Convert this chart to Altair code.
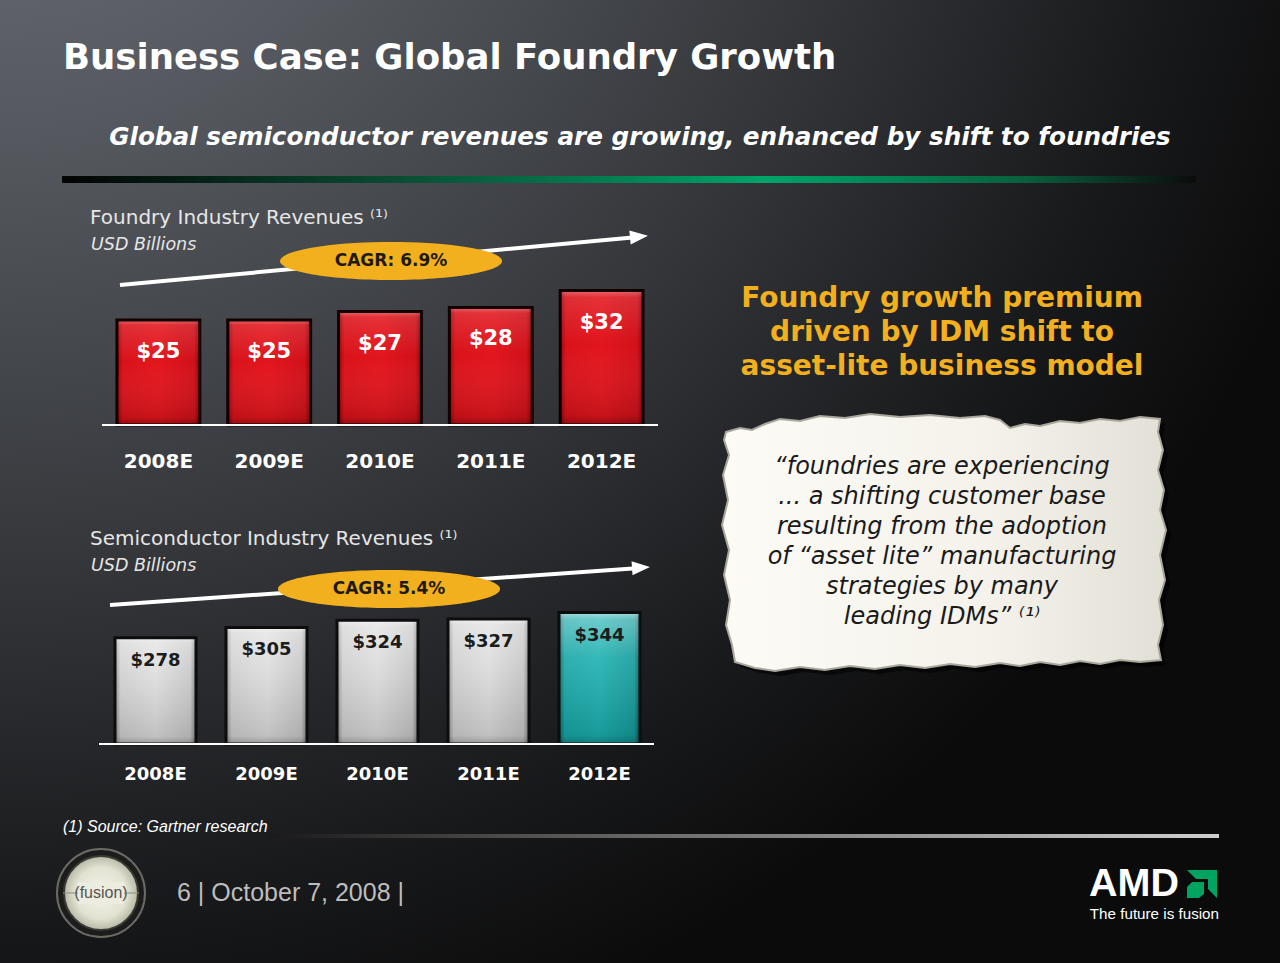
import altair as alt
import pandas as pd

# ---------------- data ----------------
years = ["2008E", "2009E", "2010E", "2011E", "2012E"]
foundry_rev = [25, 25, 27, 28, 32]
semi_rev = [278, 305, 324, 327, 344]
foundry_cagr = "CAGR: 6.9%"
semi_cagr = "CAGR: 5.4%"
highlight_year = "2012E"

title_text = "Business Case: Global Foundry Growth"
subtitle_text = "Global semiconductor revenues are growing, enhanced by shift to foundries"
top_header = "Foundry Industry Revenues \u207d\u00b9\u207e"
bottom_header = "Semiconductor Industry Revenues \u207d\u00b9\u207e"
unit_text = "USD Billions"
gold_lines = ["Foundry growth premium", "driven by IDM shift to", "asset-lite business model"]
quote_lines = [
    "\u201cfoundries are experiencing",
    "... a shifting customer base",
    "resulting from the adoption",
    "of \u201casset lite\u201d manufacturing",
    "strategies by many",
    "leading IDMs\u201d \u207d\u00b9\u207e",
]
source_text = "(1) Source: Gartner research"
footer_text = "6 | October 7, 2008 |"

FONT = "DejaVu Sans"
ARIAL = "Liberation Sans"
W, H = 1280, 963

top_df = pd.DataFrame({"year": years, "value": foundry_rev,
                       "label": ["$" + str(v) for v in foundry_rev]})
bot_df = pd.DataFrame({"year": years, "value": semi_rev,
                       "label": ["$" + str(v) for v in semi_rev],
                       "hl": [y == highlight_year for y in years]})
one = pd.DataFrame({"a": [0]})


def grad(stops, horizontal=False, kind="linear", **kw):
    g = dict(gradient=kind, stops=[alt.GradientStop(offset=o, color=c) for o, c in stops])
    if kind == "linear":
        if horizontal:
            g.update(x1=0, y1=0, x2=1, y2=0)
        else:
            g.update(x1=0, y1=0, x2=0, y2=1)
    g.update(kw)
    return alt.Gradient(**g)


def pos(x, y):
    return dict(x=alt.value(x), y=alt.value(y))


def text(s, x, y, size, color, weight="normal", style="normal", align="left",
         font=FONT, baseline="middle", **kw):
    return alt.Chart(one).mark_text(
        text=s, fontSize=size, color=color, fontWeight=weight, fontStyle=style,
        align=align, baseline=baseline, font=font, **kw
    ).encode(**pos(x, y))


def rect(x, x2, y, y2, fill, **kw):
    return alt.Chart(one).mark_rect(fill=fill, **kw).encode(
        x=alt.value(x), x2=alt.value(x2), y=alt.value(y), y2=alt.value(y2))


def shape(path, x, y, fill, angle=0, **kw):
    return alt.Chart(one).mark_point(
        shape=path, size=4, filled=True, fill=fill, opacity=1, angle=angle, **kw
    ).encode(**pos(x, y))


def arrow(xa, ya, xb, yb, angle):
    line = alt.Chart(one).mark_rule(color="white", strokeWidth=4).encode(
        x=alt.value(xa), y=alt.value(ya), x2=alt.value(xb - 8), y2=alt.value(yb + 1))
    head = shape("M-10,-7 L8,0 L-10,7 Z", xb - 6, yb + 0.5, "white", angle=angle, strokeWidth=0)
    return [line, head]


def ellipse(cx, cy, rx, ry, fill):
    p = f"M{-rx},0 A{rx},{ry} 0 1 1 {rx},0 A{rx},{ry} 0 1 1 {-rx},0 Z"
    return shape(p, cx, cy, fill, strokeWidth=0)


# ---------------- background ----------------
bg = rect(0, W, 0, H, grad([(0, "#70747b"), (0.3, "#55595f"), (0.6, "#35373b"),
                            (0.85, "#18191b"), (1, "#0b0b0b")],
                           kind="radial", x1=0.0, y1=-0.1, r1=0, x2=0.0, y2=-0.1, r2=1.1))

green_bar = rect(62, 1196, 176, 183, grad([(0, "#030303"), (0.3, "#0b4d33"), (0.62, "#00a469"),
                                            (0.85, "#0a5f3d"), (1, "#0b0b0b")], horizontal=True))
footer_line = rect(270, 1219, 834, 838, grad([(0, "#1a1a1a"), (0.4, "#6a6a6a"), (1, "#cfcfcf")],
                                              horizontal=True))

# ---------------- top chart ----------------
xs_top = alt.Scale(domain=years, range=[103, 657], paddingInner=0.252, paddingOuter=0.126)
ys_top = alt.Scale(domain=[0, 100], range=[425, 5])
enc_top = dict(x=alt.X("year:N", scale=xs_top, axis=None),
               y=alt.Y("value:Q", scale=ys_top, axis=None))

red_base = grad([(0, "#9c0408"), (0.07, "#d9121a"), (0.5, "#e3151c"), (0.93, "#d0101a"),
                 (1, "#8e0307")], horizontal=True)
shade = grad([(0, "rgba(255,255,255,0.35)"), (0.05, "rgba(255,255,255,0.12)"),
              (0.4, "rgba(255,255,255,0)"), (0.93, "rgba(0,0,0,0.12)"), (1, "rgba(0,0,0,0.35)")])

top_bars = alt.Chart(top_df).mark_bar(fill=red_base).encode(**enc_top)
top_shade = alt.Chart(top_df).mark_bar(fill=shade).encode(**enc_top)
top_frame = alt.Chart(top_df).mark_bar(fill="transparent", stroke="#120000",
                                       strokeWidth=3).encode(**enc_top)
top_labels = alt.Chart(top_df).mark_text(
    font=FONT, fontSize=21, fontWeight="bold", color="white", baseline="middle", dy=32
).encode(x=alt.X("year:N", scale=xs_top, axis=None),
         y=alt.Y("value:Q", scale=ys_top, axis=None), text="label:N")
top_cats = alt.Chart(top_df).mark_text(
    font=FONT, fontSize=20, fontWeight="bold", color="white", baseline="middle"
).encode(x=alt.X("year:N", scale=xs_top, axis=None), y=alt.value(462), text="year:N")
top_base = alt.Chart(one).mark_rule(color="white", strokeWidth=2).encode(
    x=alt.value(102), x2=alt.value(658), y=alt.value(425))

# ---------------- bottom chart ----------------
xs_bot = alt.Scale(domain=years, range=[100, 655], paddingInner=0.27, paddingOuter=0.135)
ys_bot = alt.Scale(domain=[0, 1000], range=[744, 362])
enc_bot = dict(x=alt.X("year:N", scale=xs_bot, axis=None),
               y=alt.Y("value:Q", scale=ys_bot, axis=None))

gray_base = grad([(0, "#8a8a8a"), (0.07, "#cfcfcf"), (0.5, "#dcdcdc"), (0.93, "#c6c6c6"),
                  (1, "#7e7e7e")], horizontal=True)
teal_base = grad([(0, "#0b6262"), (0.07, "#18a6a6"), (0.5, "#1cb0b0"), (0.93, "#149a9a"),
                  (1, "#095858")], horizontal=True)
gshade = grad([(0, "rgba(255,255,255,0.6)"), (0.05, "rgba(255,255,255,0.35)"),
               (0.35, "rgba(255,255,255,0.1)"), (0.93, "rgba(0,0,0,0.12)"), (1, "rgba(0,0,0,0.3)")])

bot_gray = alt.Chart(bot_df).transform_filter("!datum.hl").mark_bar(fill=gray_base).encode(**enc_bot)
bot_teal = alt.Chart(bot_df).transform_filter("datum.hl").mark_bar(fill=teal_base).encode(**enc_bot)
bot_shade = alt.Chart(bot_df).mark_bar(fill=gshade).encode(**enc_bot)
bot_frame = alt.Chart(bot_df).mark_bar(fill="transparent", stroke="#0d0d0d",
                                       strokeWidth=3).encode(**enc_bot)
bot_labels = alt.Chart(bot_df).mark_text(
    font=FONT, fontSize=18, fontWeight="bold", color="#1c1c1c", baseline="middle", dy=23
).encode(x=alt.X("year:N", scale=xs_bot, axis=None),
         y=alt.Y("value:Q", scale=ys_bot, axis=None), text="label:N")
bot_cats = alt.Chart(bot_df).mark_text(
    font=FONT, fontSize=18, fontWeight="bold", color="white", baseline="middle"
).encode(x=alt.X("year:N", scale=xs_bot, axis=None), y=alt.value(775), text="year:N")
bot_base = alt.Chart(one).mark_rule(color="white", strokeWidth=2).encode(
    x=alt.value(99), x2=alt.value(654), y=alt.value(744))

# ---------------- arrows & CAGR ellipses ----------------
gold = "#f2b01e"
arrows = arrow(120, 285, 646, 236, 354.67) + arrow(110, 605, 648, 567, 355.95)
ell_top = ellipse(391, 261, 111, 19, gold)
ell_bot = ellipse(389, 589, 111, 19, gold)
cagr_top = text(foundry_cagr, 391, 261, 17, "#1e1a10", weight="bold", align="center")
cagr_bot = text(semi_cagr, 389, 589, 17, "#1e1a10", weight="bold", align="center")

# ---------------- torn paper ----------------
paper_pts = [
    (726, 432), (740, 428), (752, 430), (765, 424), (780, 419), (800, 421), (820, 416), (845, 418),
    (870, 414), (900, 417), (930, 415), (960, 418), (985, 416), (1000, 420), (1010, 428),
    (1025, 424), (1040, 426), (1060, 421), (1080, 423), (1100, 419), (1120, 421), (1140, 417),
    (1160, 419), (1158, 432), (1163, 450), (1158, 470), (1164, 490), (1160, 510), (1166, 530),
    (1160, 555), (1165, 580), (1159, 600), (1163, 625), (1158, 645), (1161, 660), (1140, 662),
    (1120, 660), (1100, 664), (1080, 661), (1060, 665), (1040, 662), (1020, 666), (1000, 663),
    (975, 667), (950, 664), (925, 668), (900, 665), (875, 669), (850, 666), (825, 670),
    (800, 667), (775, 671), (755, 668), (735, 662), (732, 645), (726, 625), (730, 600),
    (724, 575), (729, 550), (722, 525), (728, 500), (723, 475), (729, 455), (724, 440),
]
PCX, PCY = 943, 542
paper_path = "M" + " L".join(f"{px - PCX},{py - PCY}" for px, py in paper_pts) + " Z"
paper_shadow = shape(paper_path, PCX + 5, PCY + 5, "#000000", strokeWidth=0, fillOpacity=0.55)
paper = shape(paper_path, PCX, PCY,
              grad([(0, "#fcfbf6"), (0.6, "#f4f2ea"), (1, "#e2e0d6")], horizontal=True),
              stroke="#a9a79c", strokeWidth=2)

# ---------------- texts ----------------
texts = [
    text(title_text, 63, 58, 35.5, "white", weight="bold"),
    text(subtitle_text, 640, 138, 24.7, "white", weight="bold", style="italic", align="center"),
    text(top_header, 90, 218, 20, "#e6e6e6"),
    text(unit_text, 91, 245, 17.5, "#e6e6e6", style="italic"),
    text(bottom_header, 90, 539, 20, "#e6e6e6"),
    text(unit_text, 91, 566, 17.5, "#e6e6e6", style="italic"),
    alt.Chart(one).mark_text(text=gold_lines, fontSize=28, fontWeight="bold", color=gold,
                             align="center", baseline="middle", font=FONT, lineHeight=34
                             ).encode(**pos(942, 299)),
    alt.Chart(one).mark_text(text=quote_lines, fontSize=24, fontStyle="italic", color="#1a1a1a",
                             align="center", baseline="middle", font=FONT, lineHeight=30
                             ).encode(**pos(942, 467)),
    text(source_text, 63, 827, 16, "white", style="italic", font=ARIAL),
    text(footer_text, 177, 893, 25, "#bdbdbd", font=ARIAL),
]

# ---------------- logos ----------------
fusion = [
    shape("M-44,0 A44,44 0 1 1 44,0 A44,44 0 1 1 -44,0 Z", 101, 893,
          "#1c1c1c", stroke="#6b6b66", strokeWidth=2),
    shape("M-37,0 A37,37 0 1 1 37,0 A37,37 0 1 1 -37,0 Z", 101, 893,
          grad([(0, "#f4f4ea"), (0.7, "#e2e2d2"), (1, "#b8b8a6")], kind="radial",
               x1=0.5, y1=0.5, r1=0, x2=0.5, y2=0.5, r2=0.5),
          stroke="#3a3a36", strokeWidth=2),
    alt.Chart(one).mark_rule(color="#8a8a80", strokeWidth=1).encode(
        x=alt.value(63), x2=alt.value(139), y=alt.value(893)),
    rect(78, 124, 882, 904, "#ecece0"),
    text("(fusion)", 101, 893, 16, "#555550", font=ARIAL, align="center"),
]

amd_outer = "M-15,-14 L15,-14 L15,14 L6,5 L6,-5 L-6,-5 Z"
amd_inner = "M-15,3 L-10,-2 L2,-2 L2,10 L-3,14 L-15,14 Z"
amd = [
    text("AMD", 1089, 884, 39.5, "white", weight="bold", font=ARIAL),
    shape(amd_outer, 1202, 884, "#00a360", strokeWidth=0),
    shape(amd_inner, 1202, 884, "#00a360", strokeWidth=0),
    text("The future is fusion", 1219, 914, 15.2, "white", font=ARIAL, align="right"),
]

layers = ([bg, green_bar, footer_line]
          + [top_bars, top_shade, top_frame, top_labels, top_cats, top_base]
          + [bot_gray, bot_teal, bot_shade, bot_frame, bot_labels, bot_cats, bot_base]
          + arrows + [ell_top, ell_bot, cagr_top, cagr_bot]
          + [paper_shadow, paper] + texts + fusion + amd)

chart = alt.layer(*layers).resolve_scale(x="independent", y="independent").properties(
    width=W, height=H, padding=0, autosize=alt.AutoSizeParams(type="none"),
    background="#000000"
).configure_view(stroke=None)

chart.save("out.html", embed_options={"renderer": "svg", "actions": False})
